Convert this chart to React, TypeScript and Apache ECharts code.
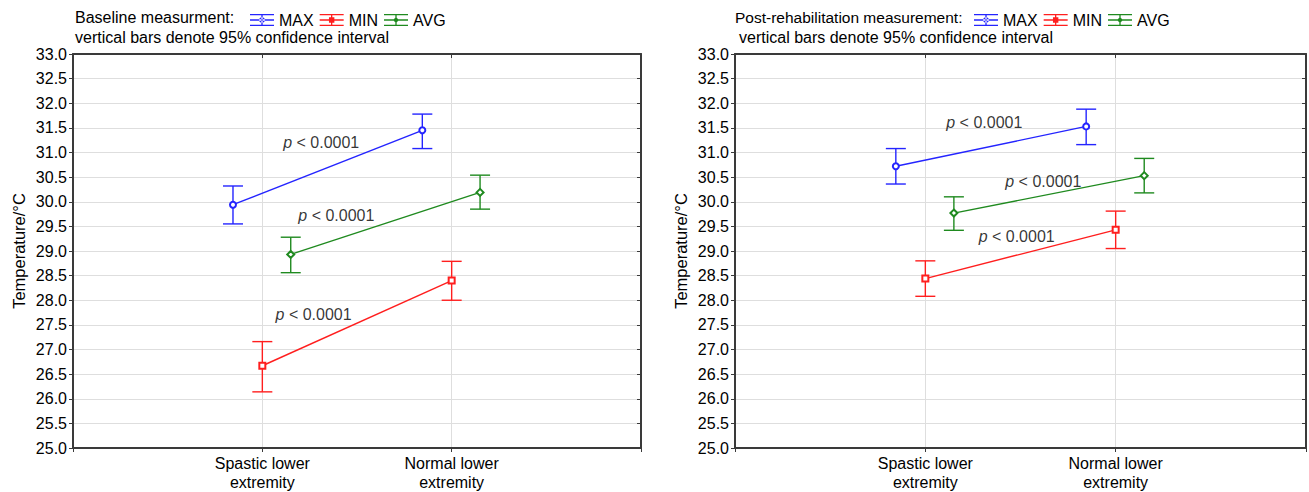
import React, { useEffect, useRef } from 'react';
import * as echarts from 'echarts';

// ---------- data ----------
const categories = ['Spastic lower\nextremity', 'Normal lower\nextremity'];
const seriesNames = ['MAX', 'MIN', 'AVG'];
const panelTitles = ['Baseline measurment:', 'Post-rehabilitation measurement:'];
const noteText = 'vertical bars denote 95% confidence interval';
const yTitle = 'Temperature/°C';

// Baseline measurement (mean, lower 95% CI, upper 95% CI) for [spastic, normal]
const baseMaxMean = [29.94, 31.45];
const baseMaxLow = [29.55, 31.08];
const baseMaxHigh = [30.32, 31.78];
const baseMinMean = [26.67, 28.4];
const baseMinLow = [26.14, 28.0];
const baseMinHigh = [27.16, 28.79];
const baseAvgMean = [28.93, 30.19];
const baseAvgLow = [28.56, 29.85];
const baseAvgHigh = [29.28, 30.54];

// Post-rehabilitation measurement
const postMaxMean = [30.72, 31.53];
const postMaxLow = [30.36, 31.16];
const postMaxHigh = [31.08, 31.88];
const postMinMean = [28.44, 29.43];
const postMinLow = [28.08, 29.05];
const postMinHigh = [28.8, 29.81];
const postAvgMean = [29.77, 30.53];
const postAvgLow = [29.42, 30.18];
const postAvgHigh = [30.1, 30.88];

// significance annotations (text anchor in data coordinates)
const pText = 'p < 0.0001';
const baseAnnotX = [1.11, 1.19, 1.07];
const baseAnnotY = [31.21, 29.73, 27.72];
const postAnnotX = [1.11, 1.42, 1.28];
const postAnnotY = [31.61, 30.42, 29.29];

// ---------- styles ----------
const FONT = '"Liberation Sans", Arial, Helvetica, sans-serif';
const TXT = '#000000';
const AXIS = '#3a3a3a';
const GRIDC = '#dedede';
const COLORS = ['#2424ff', '#ff1e1e', '#1f8a1f'];
const SYMBOLS = ['emptyCircle', 'emptyRect', 'emptyDiamond'];
const OFFSETS = [-0.155, 0, 0.15];
const FS = 16;
const titleFS = [16, 15.5];

const BARS = 'M0,0H24V1.3H0Z M0,10.7H24V12H0Z M0,5.35H24V6.65H0Z M11.35,0H12.65V12H11.35Z';
const ICONS = [
  'path://' + BARS + ' M9.2,6a2.8,2.8 0 1,0 5.6,0a2.8,2.8 0 1,0 -5.6,0Z',
  'path://' + BARS + ' M9.3,3.3H14.7V8.7H9.3Z',
  'path://' + BARS + ' M12,3L15,6L12,9L9,6Z',
];

const panels = [
  {
    means: [baseMaxMean, baseMinMean, baseAvgMean],
    lows: [baseMaxLow, baseMinLow, baseAvgLow],
    highs: [baseMaxHigh, baseMinHigh, baseAvgHigh],
    annX: baseAnnotX,
    annY: baseAnnotY,
  },
  {
    means: [postMaxMean, postMinMean, postAvgMean],
    lows: [postMaxLow, postMinLow, postAvgLow],
    highs: [postMaxHigh, postMinHigh, postAvgHigh],
    annX: postAnnotX,
    annY: postAnnotY,
  },
];

const gridBoxes = [
  { left: 73, top: 54, width: 568, height: 397 },
  { left: 735, top: 54, width: 571, height: 397 },
];
const titleLeft = [75, 735];
const noteLeft = [75, 739];
const legendLeft = [250, 974];

function buildOption() {
  const axisLine = { show: true, onZero: false, lineStyle: { color: AXIS, width: 2 } };
  const xAxis: any[] = [];
  const yAxis: any[] = [];
  const series: any[] = [];
  const title: any[] = [];
  const legend: any[] = [];

  gridBoxes.forEach((_, p) => {
    xAxis.push({
      type: 'value', gridIndex: p, min: 0, max: 3, interval: 1, position: 'bottom',
      axisLine,
      axisTick: { show: true, inside: false, length: 4, lineStyle: { color: AXIS, width: 1 } },
      axisLabel: {
        formatter: (v: number) => categories[v - 1] ?? '',
        fontSize: FS, lineHeight: 19, margin: 6, color: TXT, fontFamily: FONT,
      },
      splitLine: { show: true, lineStyle: { color: GRIDC, width: 1 } },
    });
    xAxis.push({
      type: 'value', gridIndex: p, min: 0, max: 3, interval: 1, position: 'top',
      axisLine,
      axisTick: { show: true, inside: true, length: 4, lineStyle: { color: AXIS, width: 1 } },
      axisLabel: { show: false },
      splitLine: { show: false },
    });
    yAxis.push({
      type: 'value', gridIndex: p, min: 25, max: 33, interval: 0.5, position: 'left',
      name: yTitle, nameLocation: 'middle', nameGap: 46,
      nameTextStyle: { fontSize: 16.5, color: TXT, fontFamily: FONT },
      axisLine,
      axisTick: { show: true, inside: false, length: 4, lineStyle: { color: AXIS, width: 1 } },
      axisLabel: {
        formatter: (v: number) => v.toFixed(1),
        fontSize: FS, margin: 6, color: TXT, fontFamily: FONT,
      },
      splitLine: { show: true, lineStyle: { color: GRIDC, width: 1 } },
    });
    yAxis.push({
      type: 'value', gridIndex: p, min: 25, max: 33, interval: 0.5, position: 'right',
      axisLine,
      axisTick: { show: true, inside: true, length: 4, lineStyle: { color: AXIS, width: 1 } },
      axisLabel: { show: false },
      splitLine: { show: false },
    });

    const panel = panels[p];
    seriesNames.forEach((name, s) => {
      series.push({
        type: 'line', name, xAxisIndex: p * 2, yAxisIndex: p * 2,
        data: panel.means[s].map((m, i) => [i + 1 + OFFSETS[s], m]),
        symbol: SYMBOLS[s], symbolSize: s === 2 ? 7 : 6,
        color: COLORS[s],
        lineStyle: { width: 1.4, color: COLORS[s] },
        itemStyle: { color: COLORS[s], borderWidth: 1.2 },
        z: 4, silent: true,
      });
    });
    seriesNames.forEach((name, s) => {
      series.push({
        type: 'custom', name, xAxisIndex: p * 2, yAxisIndex: p * 2,
        data: panel.lows[s].map((lo, i) => [i + 1 + OFFSETS[s], lo, panel.highs[s][i]]),
        encode: { x: 0, y: [1, 2] },
        z: 3, silent: true,
        renderItem: (params: any, api: any) => {
          const x = api.value(0);
          const top = api.coord([x, api.value(2)]);
          const bot = api.coord([x, api.value(1)]);
          const hw = 10;
          const style = { stroke: COLORS[s], lineWidth: 1.4, fill: 'none' };
          return {
            type: 'group',
            children: [
              { type: 'line', shape: { x1: top[0], y1: top[1], x2: bot[0], y2: bot[1] }, style },
              { type: 'line', shape: { x1: top[0] - hw, y1: top[1], x2: top[0] + hw, y2: top[1] }, style },
              { type: 'line', shape: { x1: bot[0] - hw, y1: bot[1], x2: bot[0] + hw, y2: bot[1] }, style },
            ],
          };
        },
      });
    });
    series.push({
      type: 'scatter', xAxisIndex: p * 2, yAxisIndex: p * 2, silent: true,
      symbolSize: 0, z: 5,
      data: panel.annX.map((x, i) => [x, panel.annY[i]]),
      label: {
        show: true, position: 'inside', align: 'left', verticalAlign: 'middle',
        formatter: () => '{i|p}' + pText.slice(1),
        fontSize: FS, color: TXT, fontFamily: FONT,
        rich: { i: { fontStyle: 'italic', fontSize: FS, color: TXT, fontFamily: FONT } },
      },
    });

    title.push({
      text: panelTitles[p], left: titleLeft[p], top: 9, padding: 0,
      textStyle: { fontSize: titleFS[p], fontWeight: 'normal', color: TXT, fontFamily: FONT },
    });
    title.push({
      text: noteText, left: noteLeft[p], top: 29, padding: 0,
      textStyle: { fontSize: FS, fontWeight: 'normal', color: TXT, fontFamily: FONT },
    });
    legend.push({
      left: legendLeft[p], top: 12, padding: 0, itemWidth: 24, itemHeight: 12, itemGap: 6,
      selectedMode: false,
      itemStyle: { borderWidth: 0 },
      data: seriesNames.map((n, s) => ({ name: n, icon: ICONS[s] })),
      textStyle: { fontSize: FS, color: TXT, fontFamily: FONT },
    });
  });

  return {
    animation: false,
    backgroundColor: '#ffffff',
    textStyle: { fontFamily: FONT },
    title,
    legend,
    grid: gridBoxes.map((g) => ({ ...g, containLabel: false, show: false })),
    xAxis,
    yAxis,
    series,
  };
}

export default function App() {
  const ref = useRef<HTMLDivElement>(null);
  useEffect(() => {
    document.body.style.margin = '0';
    const chart = echarts.init(ref.current as HTMLDivElement, null, { renderer: 'svg' });
    chart.setOption(buildOption() as any);
    return () => chart.dispose();
  }, []);
  return <div ref={ref} style={{ width: 1309, height: 492 }} />;
}
